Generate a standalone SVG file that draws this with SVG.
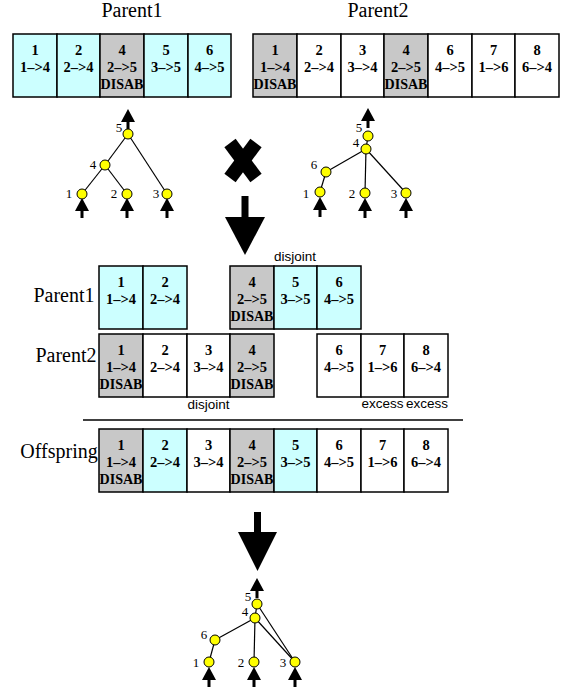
<svg xmlns="http://www.w3.org/2000/svg" xmlns:xlink="http://www.w3.org/1999/xlink" width="569" height="693" viewBox="0 0 569 693">
<style>
.cell{stroke:#000;stroke-width:1.5}
.cy{fill:#ccffff}
.gr{fill:#c8c8c8}
.wh{fill:#ffffff}
.t{font-family:"Liberation Serif","Times New Roman",serif;font-weight:bold;font-size:14.5px;text-anchor:middle;fill:#000}
.title{font-family:"Liberation Serif","Times New Roman",serif;font-size:20px;text-anchor:middle;fill:#000}
.lab{font-family:"Liberation Sans",Arial,sans-serif;font-size:13.5px;text-anchor:middle;fill:#000}
.nl{font-family:"Liberation Serif","Times New Roman",serif;font-size:13px;text-anchor:middle;fill:#000}
.nd{fill:#ffff00;stroke:#000;stroke-width:1}
.edge{stroke:#000;stroke-width:1.2;fill:none}
</style>
<defs>
<g id="ua"><path d="M0,0 L7,13 L-7,13 Z" fill="#000"/><rect x="-1.5" y="12" width="3" height="8" fill="#000"/></g>
</defs>
<rect width="569" height="693" fill="#fff"/>

<!-- Titles -->
<text class="title" x="132" y="17">Parent1</text>
<text class="title" x="378" y="17">Parent2</text>

<!-- Top Parent1 genome -->
<g id="p1top">
<g id="p1t-1"><rect class="cell cy" x="13" y="34" width="44" height="63"/><text class="t" x="35" y="55">1</text><text class="t" x="35" y="72">1–&gt;4</text></g>
<g id="p1t-2"><rect class="cell cy" x="57" y="34" width="43" height="63"/><text class="t" x="78.5" y="55">2</text><text class="t" x="78.5" y="72">2–&gt;4</text></g>
<g id="p1t-4"><rect class="cell gr" x="100" y="34" width="44" height="63"/><text class="t" x="122" y="55">4</text><text class="t" x="122" y="72">2–&gt;5</text><text class="t" x="122" y="89" textLength="43" lengthAdjust="spacingAndGlyphs">DISAB</text></g>
<g id="p1t-5"><rect class="cell cy" x="144" y="34" width="44" height="63"/><text class="t" x="166" y="55">5</text><text class="t" x="166" y="72">3–&gt;5</text></g>
<g id="p1t-6"><rect class="cell cy" x="188" y="34" width="43" height="63"/><text class="t" x="209.5" y="55">6</text><text class="t" x="209.5" y="72">4–&gt;5</text></g>
</g>

<!-- Top Parent2 genome -->
<g id="p2top">
<g id="p2t-1"><rect class="cell gr" x="253" y="34" width="44" height="63"/><text class="t" x="275" y="55">1</text><text class="t" x="275" y="72">1–&gt;4</text><text class="t" x="275" y="89" textLength="43" lengthAdjust="spacingAndGlyphs">DISAB</text></g>
<g id="p2t-2"><rect class="cell wh" x="297" y="34" width="44" height="63"/><text class="t" x="319" y="55">2</text><text class="t" x="319" y="72">2–&gt;4</text></g>
<g id="p2t-3"><rect class="cell wh" x="341" y="34" width="43" height="63"/><text class="t" x="362.5" y="55">3</text><text class="t" x="362.5" y="72">3–&gt;4</text></g>
<g id="p2t-4"><rect class="cell gr" x="384" y="34" width="44" height="63"/><text class="t" x="406" y="55">4</text><text class="t" x="406" y="72">2–&gt;5</text><text class="t" x="406" y="89" textLength="43" lengthAdjust="spacingAndGlyphs">DISAB</text></g>
<g id="p2t-6"><rect class="cell wh" x="428" y="34" width="44" height="63"/><text class="t" x="450" y="55">6</text><text class="t" x="450" y="72">4–&gt;5</text></g>
<g id="p2t-7"><rect class="cell wh" x="472" y="34" width="43" height="63"/><text class="t" x="493.5" y="55">7</text><text class="t" x="493.5" y="72">1–&gt;6</text></g>
<g id="p2t-8"><rect class="cell wh" x="515" y="34" width="44" height="63"/><text class="t" x="537" y="55">8</text><text class="t" x="537" y="72">6–&gt;4</text></g>
</g>

<!-- Connectors (tree edges) -->
<g id="connectors">
<line class="edge" x1="128" y1="134" x2="105" y2="165"/>
<line class="edge" x1="128" y1="134" x2="167" y2="194"/>
<line class="edge" x1="105" y1="165" x2="82" y2="194"/>
<line class="edge" x1="105" y1="165" x2="127" y2="194"/>

<line class="edge" x1="368" y1="136" x2="366" y2="149"/>
<line class="edge" x1="366" y1="149" x2="326" y2="172"/>
<line class="edge" x1="326" y1="172" x2="320" y2="192"/>
<line class="edge" x1="366" y1="149" x2="365" y2="193"/>
<line class="edge" x1="366" y1="149" x2="406" y2="193"/>

<line class="edge" x1="257" y1="604" x2="255" y2="618"/>
<line class="edge" x1="257" y1="604" x2="295" y2="662"/>
<line class="edge" x1="255" y1="618" x2="215" y2="640"/>
<line class="edge" x1="215" y1="640" x2="209" y2="662"/>
<line class="edge" x1="255" y1="618" x2="254" y2="662"/>
<line class="edge" x1="255" y1="618" x2="295" y2="662"/>
</g>

<!-- Arrows of trees -->
<use xlink:href="#ua" href="#ua" x="128" y="109"/>
<use xlink:href="#ua" href="#ua" x="82" y="198"/>
<use xlink:href="#ua" href="#ua" x="127" y="198"/>
<use xlink:href="#ua" href="#ua" x="167" y="198"/>
<use xlink:href="#ua" href="#ua" x="368" y="108"/>
<use xlink:href="#ua" href="#ua" x="320" y="197"/>
<use xlink:href="#ua" href="#ua" x="365" y="198"/>
<use xlink:href="#ua" href="#ua" x="406" y="198"/>
<use xlink:href="#ua" href="#ua" x="257" y="578"/>
<use xlink:href="#ua" href="#ua" x="209" y="667"/>
<use xlink:href="#ua" href="#ua" x="254" y="667"/>
<use xlink:href="#ua" href="#ua" x="295" y="667"/>

<!-- Parent1 tree nodes -->
<g id="t1-n5"><circle class="nd" cx="128" cy="134" r="5"/><text class="nl" x="119" y="132">5</text></g>
<g id="t1-n4"><circle class="nd" cx="105" cy="165" r="5"/><text class="nl" x="93" y="169">4</text></g>
<g id="t1-n1"><circle class="nd" cx="82" cy="194" r="5"/><text class="nl" x="69" y="198">1</text></g>
<g id="t1-n2"><circle class="nd" cx="127" cy="194" r="5"/><text class="nl" x="114" y="198">2</text></g>
<g id="t1-n3"><circle class="nd" cx="167" cy="194" r="5"/><text class="nl" x="156" y="198">3</text></g>

<!-- Parent2 tree nodes -->
<g id="t2-n5"><circle class="nd" cx="368" cy="136" r="5"/><text class="nl" x="359" y="132">5</text></g>
<g id="t2-n4"><circle class="nd" cx="366" cy="149" r="5"/><text class="nl" x="356" y="147">4</text></g>
<g id="t2-n6"><circle class="nd" cx="326" cy="172" r="5"/><text class="nl" x="314" y="169">6</text></g>
<g id="t2-n1"><circle class="nd" cx="320" cy="192" r="5"/><text class="nl" x="306" y="198">1</text></g>
<g id="t2-n2"><circle class="nd" cx="365" cy="193" r="5"/><text class="nl" x="352" y="198">2</text></g>
<g id="t2-n3"><circle class="nd" cx="406" cy="193" r="5"/><text class="nl" x="394" y="198">3</text></g>

<!-- Cross mark -->
<g id="cross">
<line x1="230" y1="143" x2="256" y2="178" stroke="#000" stroke-width="14"/>
<line x1="256" y1="143" x2="230" y2="178" stroke="#000" stroke-width="14"/>
</g>

<!-- Big down arrows -->
<g id="bigarrow1"><rect x="241.5" y="196" width="7" height="22" fill="#000"/><path d="M225,217 L265,217 L245,255 Z" fill="#000"/></g>
<g id="bigarrow2"><rect x="254" y="512" width="7" height="21" fill="#000"/><path d="M238,532 L277,532 L257.5,571 Z" fill="#000"/></g>

<!-- Middle Parent1 -->
<text class="title" x="64" y="302">Parent1</text>
<text class="lab" x="295" y="261">disjoint</text>
<g id="p1mid">
<g id="p1m-1"><rect class="cell cy" x="99" y="266" width="44" height="63"/><text class="t" x="121" y="287">1</text><text class="t" x="121" y="304">1–&gt;4</text></g>
<g id="p1m-2"><rect class="cell cy" x="143" y="266" width="44" height="63"/><text class="t" x="165" y="287">2</text><text class="t" x="165" y="304">2–&gt;4</text></g>
<g id="p1m-4"><rect class="cell gr" x="230" y="266" width="44" height="63"/><text class="t" x="252" y="287">4</text><text class="t" x="252" y="304">2–&gt;5</text><text class="t" x="252" y="321" textLength="43" lengthAdjust="spacingAndGlyphs">DISAB</text></g>
<g id="p1m-5"><rect class="cell cy" x="274" y="266" width="43" height="63"/><text class="t" x="295.5" y="287">5</text><text class="t" x="295.5" y="304">3–&gt;5</text></g>
<g id="p1m-6"><rect class="cell cy" x="317" y="266" width="44" height="63"/><text class="t" x="339" y="287">6</text><text class="t" x="339" y="304">4–&gt;5</text></g>
</g>

<!-- Middle Parent2 -->
<text class="title" x="66" y="362">Parent2</text>
<g id="p2mid">
<g id="p2m-1"><rect class="cell gr" x="99" y="334" width="44" height="63"/><text class="t" x="121" y="355">1</text><text class="t" x="121" y="372">1–&gt;4</text><text class="t" x="121" y="389" textLength="43" lengthAdjust="spacingAndGlyphs">DISAB</text></g>
<g id="p2m-2"><rect class="cell wh" x="143" y="334" width="44" height="63"/><text class="t" x="165" y="355">2</text><text class="t" x="165" y="372">2–&gt;4</text></g>
<g id="p2m-3"><rect class="cell wh" x="187" y="334" width="43" height="63"/><text class="t" x="208.5" y="355">3</text><text class="t" x="208.5" y="372">3–&gt;4</text></g>
<g id="p2m-4"><rect class="cell gr" x="230" y="334" width="44" height="63"/><text class="t" x="252" y="355">4</text><text class="t" x="252" y="372">2–&gt;5</text><text class="t" x="252" y="389" textLength="43" lengthAdjust="spacingAndGlyphs">DISAB</text></g>
<g id="p2m-6"><rect class="cell wh" x="317" y="334" width="44" height="63"/><text class="t" x="339" y="355">6</text><text class="t" x="339" y="372">4–&gt;5</text></g>
<g id="p2m-7"><rect class="cell wh" x="361" y="334" width="43" height="63"/><text class="t" x="382.5" y="355">7</text><text class="t" x="382.5" y="372">1–&gt;6</text></g>
<g id="p2m-8"><rect class="cell wh" x="404" y="334" width="44" height="63"/><text class="t" x="426" y="355">8</text><text class="t" x="426" y="372">6–&gt;4</text></g>
</g>
<text class="lab" x="208.5" y="409">disjoint</text>
<text class="lab" x="382.5" y="408">excess</text>
<text class="lab" x="427" y="408">excess</text>

<line x1="83" y1="420" x2="463" y2="420" stroke="#000" stroke-width="1.5"/>

<!-- Offspring -->
<text class="title" x="59" y="458">Offspring</text>
<g id="offspring">
<g id="o-1"><rect class="cell gr" x="99" y="429" width="44" height="63"/><text class="t" x="121" y="450">1</text><text class="t" x="121" y="467">1–&gt;4</text><text class="t" x="121" y="484" textLength="43" lengthAdjust="spacingAndGlyphs">DISAB</text></g>
<g id="o-2"><rect class="cell cy" x="143" y="429" width="44" height="63"/><text class="t" x="165" y="450">2</text><text class="t" x="165" y="467">2–&gt;4</text></g>
<g id="o-3"><rect class="cell wh" x="187" y="429" width="43" height="63"/><text class="t" x="208.5" y="450">3</text><text class="t" x="208.5" y="467">3–&gt;4</text></g>
<g id="o-4"><rect class="cell gr" x="230" y="429" width="44" height="63"/><text class="t" x="252" y="450">4</text><text class="t" x="252" y="467">2–&gt;5</text><text class="t" x="252" y="484" textLength="43" lengthAdjust="spacingAndGlyphs">DISAB</text></g>
<g id="o-5"><rect class="cell cy" x="274" y="429" width="43" height="63"/><text class="t" x="295.5" y="450">5</text><text class="t" x="295.5" y="467">3–&gt;5</text></g>
<g id="o-6"><rect class="cell wh" x="317" y="429" width="44" height="63"/><text class="t" x="339" y="450">6</text><text class="t" x="339" y="467">4–&gt;5</text></g>
<g id="o-7"><rect class="cell wh" x="361" y="429" width="43" height="63"/><text class="t" x="382.5" y="450">7</text><text class="t" x="382.5" y="467">1–&gt;6</text></g>
<g id="o-8"><rect class="cell wh" x="404" y="429" width="44" height="63"/><text class="t" x="426" y="450">8</text><text class="t" x="426" y="467">6–&gt;4</text></g>
</g>

<!-- Offspring tree nodes -->
<g id="t3-n5"><circle class="nd" cx="257" cy="604" r="5"/><text class="nl" x="248" y="601">5</text></g>
<g id="t3-n4"><circle class="nd" cx="255" cy="618" r="5"/><text class="nl" x="245" y="616">4</text></g>
<g id="t3-n6"><circle class="nd" cx="215" cy="640" r="5"/><text class="nl" x="204" y="639">6</text></g>
<g id="t3-n1"><circle class="nd" cx="209" cy="662" r="5"/><text class="nl" x="196" y="667">1</text></g>
<g id="t3-n2"><circle class="nd" cx="254" cy="662" r="5"/><text class="nl" x="241" y="667">2</text></g>
<g id="t3-n3"><circle class="nd" cx="295" cy="662" r="5"/><text class="nl" x="283" y="667">3</text></g>
</svg>
